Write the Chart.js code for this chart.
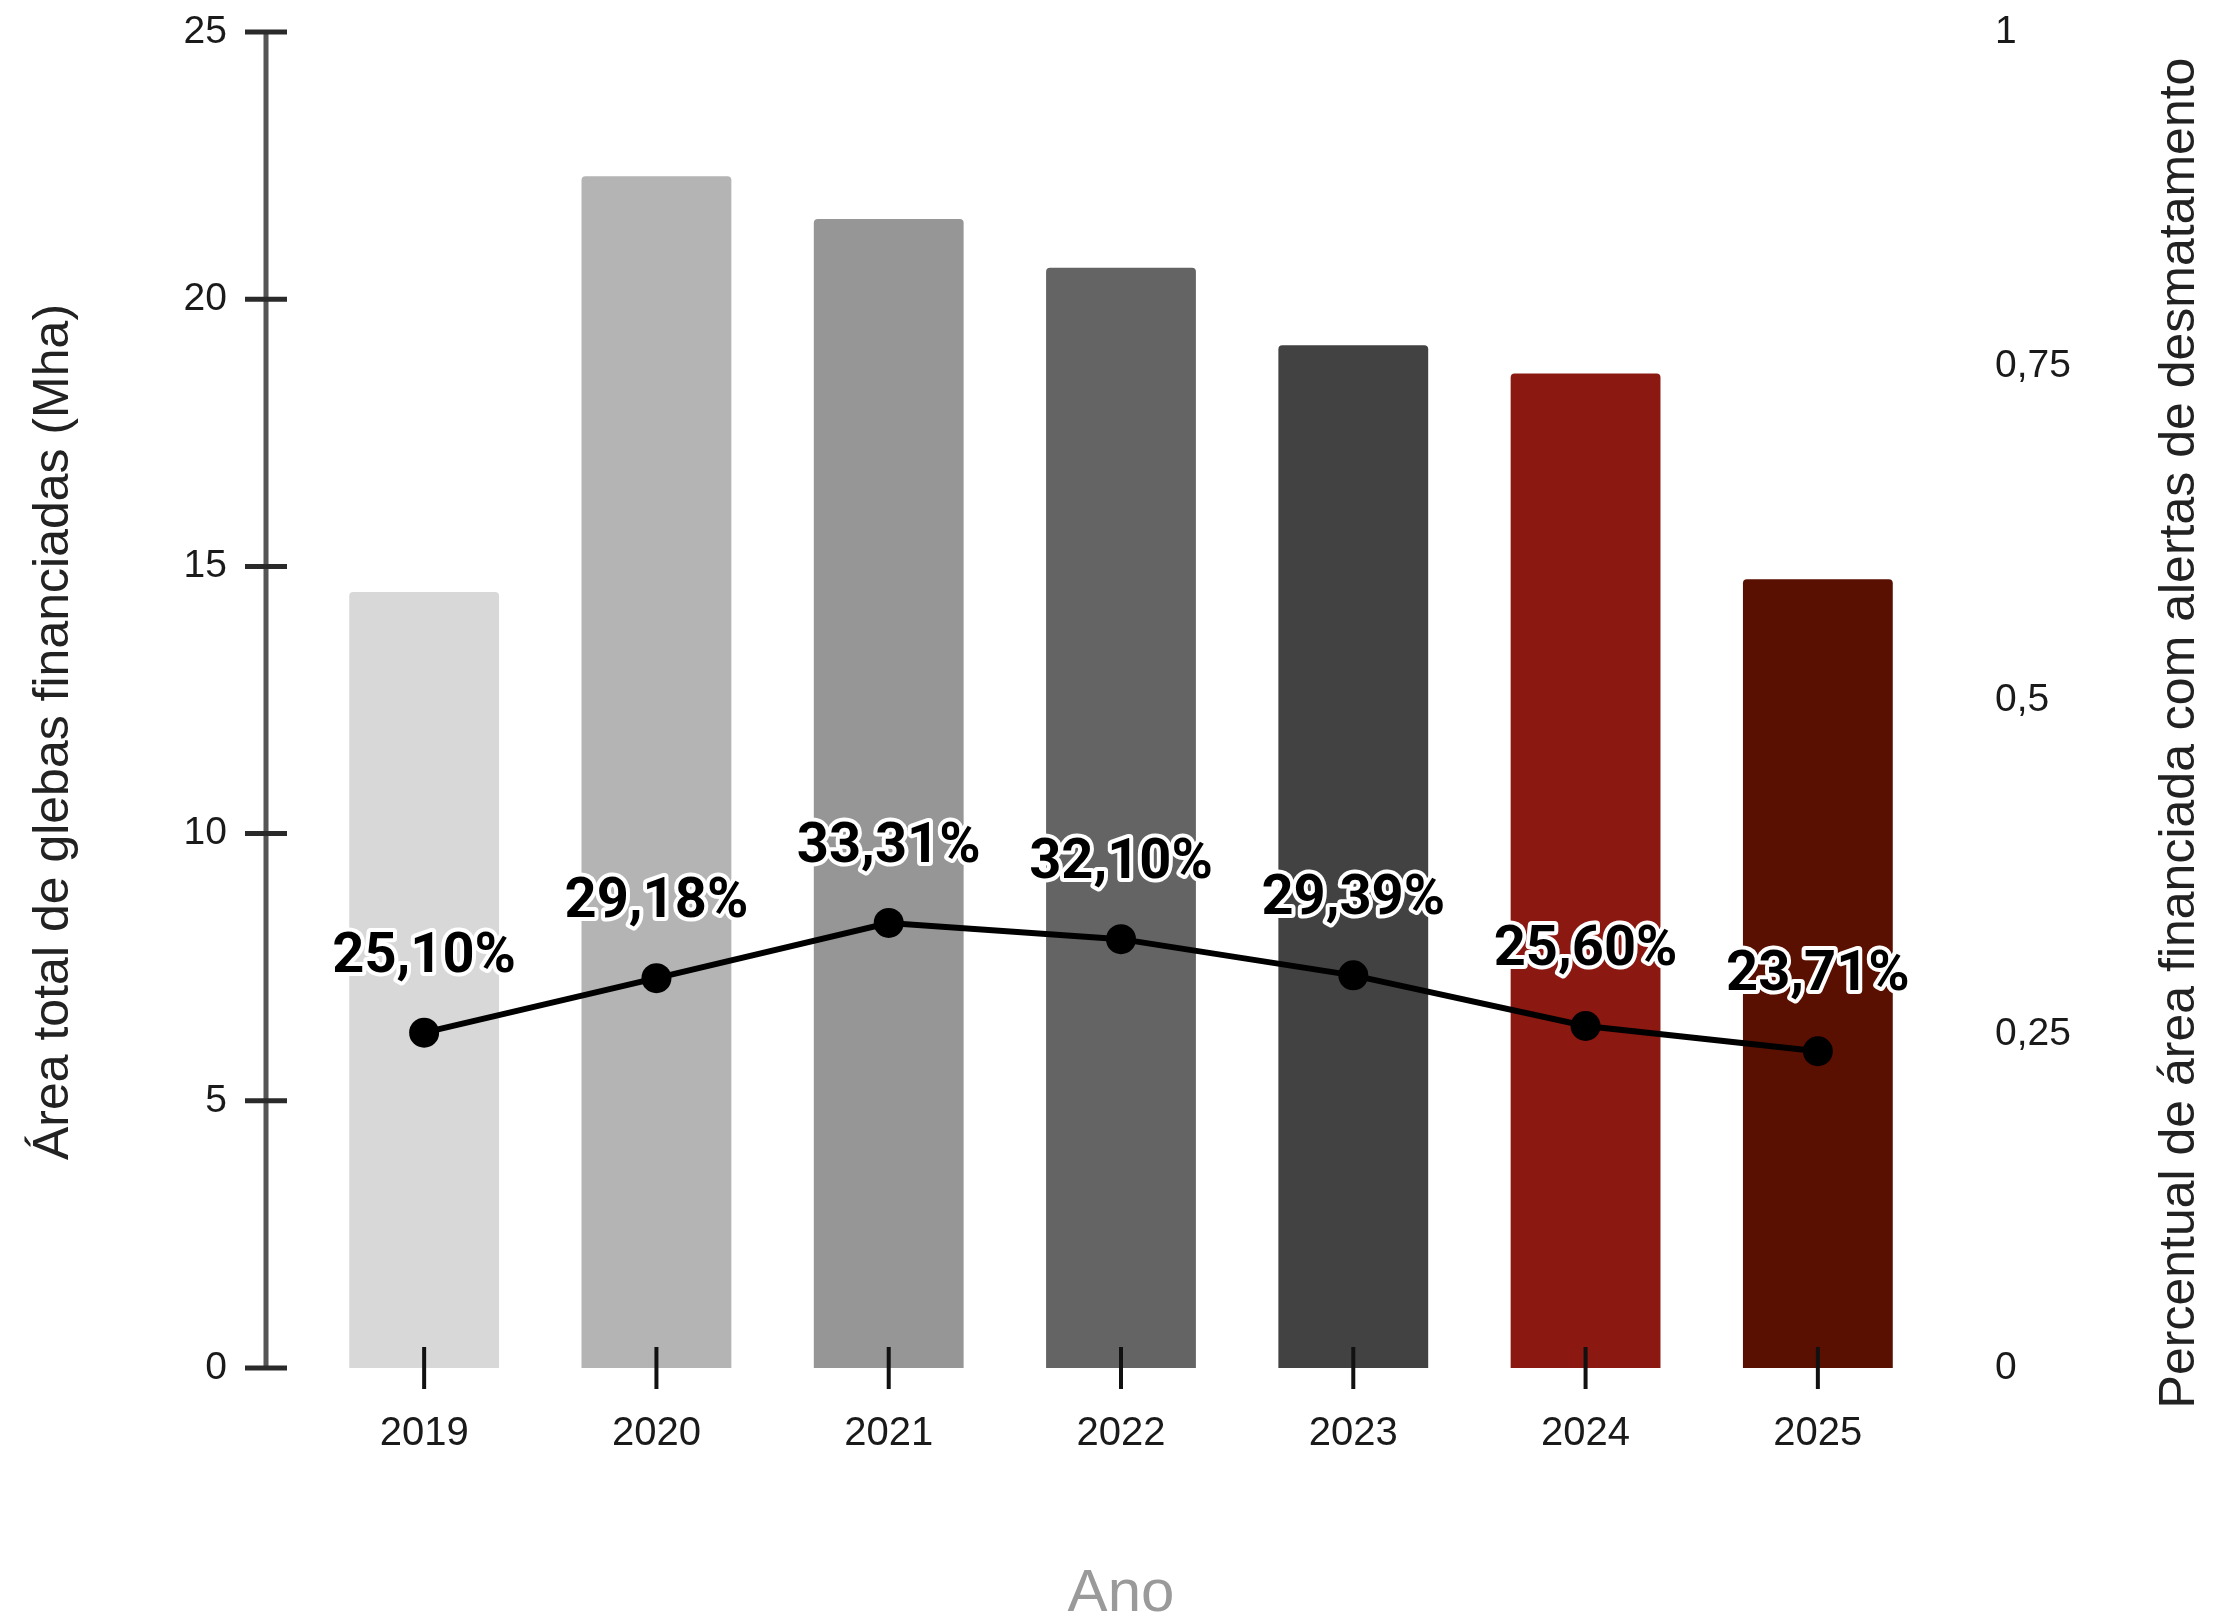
<!DOCTYPE html>
<html lang="pt-BR">
<head>
<meta charset="utf-8">
<title>Área financiada e alertas de desmatamento</title>
<script src="https://cdn.jsdelivr.net/npm/chart.js@4.4.1/dist/chart.umd.min.js"></script>
<style>
  html, body { margin: 0; padding: 0; background: #ffffff; }
  canvas { display: block; }
</style>
</head>
<body>
<canvas id="grafico" width="2239" height="1616"></canvas>
<script>
// Dados do gráfico
const anos = ["2019", "2020", "2021", "2022", "2023", "2024", "2025"];
const areaMha = [14.52, 22.30, 21.50, 20.59, 19.14, 18.61, 14.76]; // eixo esquerdo
const percAlertas = [0.2510, 0.2918, 0.3331, 0.3210, 0.2939, 0.2560, 0.2371]; // eixo direito
const rotulosPerc = ["25,10%", "29,18%", "33,31%", "32,10%", "29,39%", "25,60%", "23,71%"];
const coresBarras = ["#d8d8d8", "#b4b4b4", "#969696", "#646464", "#424242", "#8b1811", "#5a1000"];

const tituloEsq = "Área total de glebas financiadas (Mha)";
const tituloDir = "Percentual de área financiada com alertas de desmatamento";
const tituloX = "Ano";

const fonteBase = "'Liberation Sans', Arial, sans-serif";

// Eixo esquerdo afastado da área do gráfico + marcas do eixo X
const eixosPlugin = {
  id: "eixos",
  afterDatasetsDraw(chart) {
    const c = chart.ctx;
    const y = chart.scales.y;
    const x = chart.scales.x;
    const xEixo = 266;

    c.save();
    // linha vertical do eixo Y
    c.strokeStyle = "#555555";
    c.lineWidth = 5;
    c.beginPath();
    c.moveTo(xEixo, y.getPixelForValue(25));
    c.lineTo(xEixo, y.getPixelForValue(0));
    c.stroke();

    // marcas horizontais
    c.strokeStyle = "#2a2a2a";
    y.ticks.forEach(t => {
      const py = y.getPixelForValue(t.value);
      c.beginPath();
      c.moveTo(xEixo - 21, py);
      c.lineTo(xEixo + 21, py);
      c.stroke();
    });

    // marcas verticais do eixo X
    c.strokeStyle = "#111111";
    c.lineWidth = 4;
    const base = y.getPixelForValue(0);
    anos.forEach((a, i) => {
      const px = x.getPixelForValue(i);
      c.beginPath();
      c.moveTo(px, base - 21);
      c.lineTo(px, base + 21);
      c.stroke();
    });
    c.restore();
  }
};

// Rótulos percentuais com contorno branco
const rotulosPlugin = {
  id: "rotulos",
  afterDatasetsDraw(chart) {
    const c = chart.ctx;
    const meta = chart.getDatasetMeta(0);
    c.save();
    c.font = "bold 56px Roboto, 'Liberation Sans', sans-serif";
    c.textAlign = "center";
    c.textBaseline = "alphabetic";
    c.lineJoin = "round";
    meta.data.forEach((pt, i) => {
      const ty = pt.y - 61;
      c.strokeStyle = "#ffffff";
      c.lineWidth = 8;
      c.strokeText(rotulosPerc[i], pt.x, ty);
      c.fillStyle = "#000000";
      c.fillText(rotulosPerc[i], pt.x, ty);
    });
    c.restore();
  }
};

// Títulos dos eixos
const titulosPlugin = {
  id: "titulos",
  afterDraw(chart) {
    const c = chart.ctx;
    const area = chart.chartArea;
    c.save();
    c.textAlign = "center";

    // eixo X
    c.fillStyle = "#9a9a9a";
    c.font = "60px " + fonteBase;
    c.textBaseline = "alphabetic";
    c.fillText(tituloX, (area.left + area.right) / 2, 1611);

    // eixo esquerdo
    c.textBaseline = "middle";
    c.fillStyle = "#222222";
    c.font = "50px " + fonteBase;
    c.save();
    c.translate(54, 732);
    c.rotate(-Math.PI / 2);
    c.fillText(tituloEsq, 0, 0);
    c.restore();

    // eixo direito
    c.save();
    c.translate(2180, 733);
    c.rotate(-Math.PI / 2);
    c.fillText(tituloDir, 0, 0);
    c.restore();

    c.restore();
  }
};

// largura fixa dos eixos verticais, sem folga extra em cima/embaixo
function fixaEixoVertical(largura) {
  return function (s) {
    s.width = largura;
    s.paddingTop = 0;
    s.paddingBottom = 0;
  };
}

const ctx = document.getElementById("grafico").getContext("2d");

const chart = new Chart(ctx, {
  data: {
    labels: anos,
    datasets: [
      {
        type: "line",
        data: percAlertas,
        yAxisID: "y1",
        borderColor: "#000000",
        borderWidth: 6,
        pointRadius: 15,
        pointBackgroundColor: "#000000",
        pointBorderWidth: 0,
        tension: 0,
        order: 0
      },
      {
        type: "bar",
        data: areaMha,
        yAxisID: "y",
        backgroundColor: coresBarras,
        borderRadius: 4,
        borderSkipped: "bottom",
        categoryPercentage: 1,
        barPercentage: 0.645,
        order: 1
      }
    ]
  },
  options: {
    responsive: false,
    animation: false,
    devicePixelRatio: 1,
    layout: { padding: { top: 32, left: 0, right: 0, bottom: 0 } },
    plugins: {
      legend: { display: false },
      tooltip: { enabled: false }
    },
    scales: {
      x: {
        offset: true,
        grid: { display: false, drawTicks: false },
        border: { display: false },
        ticks: {
          color: "#1a1a1a",
          padding: 42,
          font: { family: fonteBase, size: 40 }
        },
        afterFit(s) {
          s.height = 248;
          s.paddingLeft = 0;
          s.paddingRight = 0;
        }
      },
      y: {
        position: "left",
        min: 0,
        max: 25,
        grid: { display: false, drawTicks: false },
        border: { display: false },
        ticks: {
          stepSize: 5,
          color: "#1a1a1a",
          padding: 81,
          font: { family: fonteBase, size: 39 }
        },
        afterFit: fixaEixoVertical(308)
      },
      y1: {
        position: "right",
        min: 0,
        max: 1,
        grid: { display: false, drawTicks: false },
        border: { display: false },
        ticks: {
          stepSize: 0.25,
          color: "#1a1a1a",
          padding: 61,
          font: { family: fonteBase, size: 39 },
          callback: v => String(v).replace(".", ",")
        },
        afterFit: fixaEixoVertical(305)
      }
    }
  },
  plugins: [eixosPlugin, rotulosPlugin, titulosPlugin]
});
</script>
</body>
</html>
